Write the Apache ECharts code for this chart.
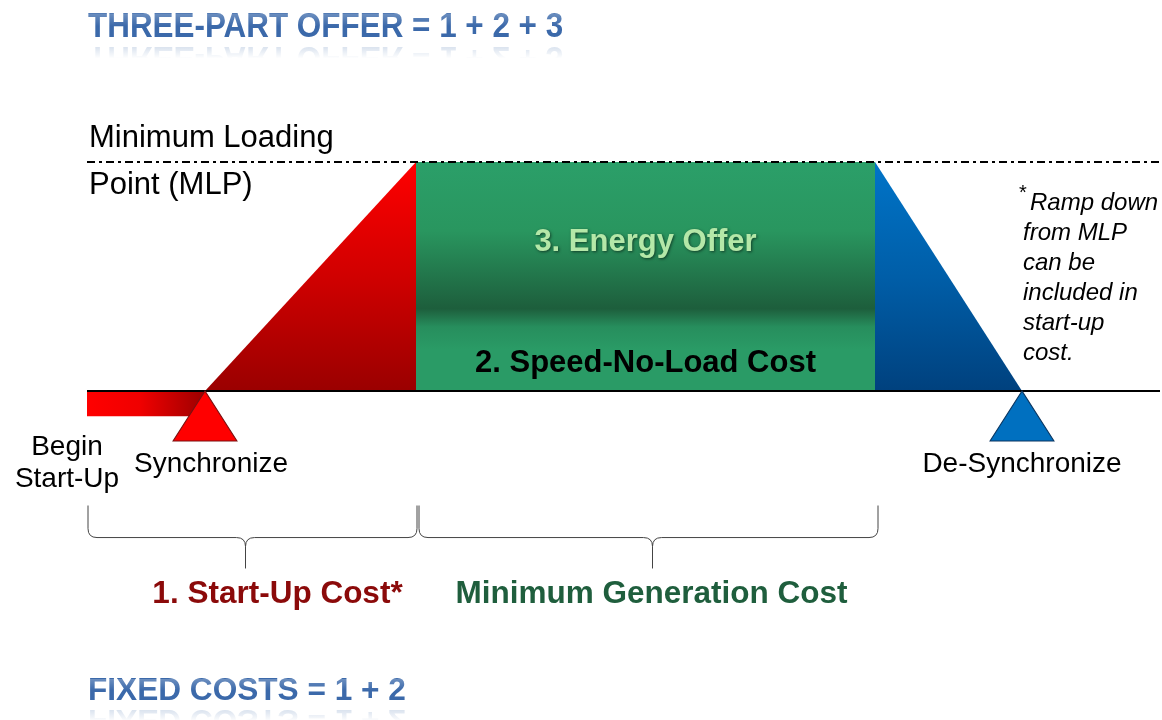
<!DOCTYPE html>
<html>
<head>
    <meta charset="UTF-8">
    <title>Three-part offer</title>
    <script src="https://cdn.jsdelivr.net/npm/echarts@6/dist/echarts.min.js"></script>
    <style>
        html, body { margin: 0; padding: 0; background: #fff; }
        #main { width: 1162px; height: 720px; }
    </style>
</head>
<body>
    <div id="main"></div>
    <script>
        // timeline of the unit (x = time, y = output level, MLP = 100)
        var eventNames = ['Begin\nStart-Up', 'Synchronize', 'Reach MLP', 'Ramp Down', 'De-Synchronize'];
        var eventTimes = [87, 205, 416, 875, 1022];
        var timeEnd = 1160;
        var levelBase = 0;
        var levelMLP = 100;
        var startUpLevel = -11;

        // cost brackets under the timeline
        var costLabels = ['1. Start-Up Cost*', 'Minimum Generation Cost'];
        var costSpans = [[88, 417], [419, 878]];

        // texts inside the minimum generation block
        var blockLabels = ['3. Energy Offer', '2. Speed-No-Load Cost'];

        var FONT = '"Liberation Sans", Arial, sans-serif';

        function grad(v, stops) {
            return new echarts.graphic.LinearGradient(0, 0, v ? 0 : 1, v ? 1 : 0,
                stops.map(function (s) { return { offset: s[0], color: s[1] }; }));
        }

        function areaLine(name, data, fill) {
            return {
                name: name,
                type: 'line',
                data: data,
                symbol: 'none',
                silent: true,
                lineStyle: { width: 0 },
                areaStyle: { color: fill, opacity: 1 },
                z: 2
            };
        }

        // blue heading with a faded mirror image underneath
        function titleText(text, y, mirror, size, sx) {
            var st = { text: text, fontSize: size, fontWeight: 'bold', fontFamily: FONT, fill: '#3b69aa', verticalAlign: 'middle' };
            var ref = echarts.util.clone(st);
            ref.opacity = 0.3;
            return [
                { type: 'text', x: 88, y: y, scaleX: sx, style: st, z: 10 },
                {
                    type: 'group', x: 0, y: mirror, scaleY: -1, z: 9,
                    children: [{ type: 'text', x: 88, y: -(mirror - y), scaleX: sx, style: ref }]
                },
                {
                    type: 'rect', z: 11,
                    shape: { x: 80, y: mirror, width: 520, height: 30 },
                    style: { fill: grad(true, [[0, 'rgba(255,255,255,0.1)'], [0.55, 'rgba(255,255,255,1)'], [1, 'rgba(255,255,255,1)']]) }
                },
                {
                    type: 'rect', z: 11,
                    shape: { x: 80, y: y - size * 0.38, width: 520, height: size * 0.36 },
                    style: { fill: grad(true, [[0, 'rgba(255,255,255,0.25)'], [1, 'rgba(255,255,255,0)']]) }
                }
            ];
        }

        var chart = echarts.init(document.getElementById('main'));

        var option = {
            animation: false,
            backgroundColor: '#fff',
            grid: { left: 0, right: 0, top: 1.7, bottom: 8.4 },
            xAxis: { type: 'value', min: 0, max: 1162, show: false },
            yAxis: { type: 'value', min: -140, max: 170, show: false },
            graphic: [].concat(
                titleText('THREE-PART OFFER = 1 + 2 + 3', 27, 42, 35.5, 0.885),
                titleText('FIXED COSTS = 1 + 2', 691, 705, 31.6, 1),
                [
                    { type: 'text', x: 89, y: 138, style: { text: 'Minimum Loading', fontSize: 31, fontFamily: FONT, fill: '#000', verticalAlign: 'middle' } },
                    { type: 'text', x: 89, y: 185, style: { text: 'Point (MLP)', fontSize: 31, fontFamily: FONT, fill: '#000', verticalAlign: 'middle' } },
                    { type: 'text', x: 1019, y: 193, style: { text: '*', fontSize: 20, fontFamily: FONT, fill: '#000', verticalAlign: 'middle' } },
                    { type: 'text', x: 1030, y: 203, style: { text: 'Ramp down', fontSize: 24, fontStyle: 'italic', fontFamily: FONT, fill: '#000', verticalAlign: 'middle' } },
                    {
                        type: 'text', x: 1023, y: 218,
                        style: { text: 'from MLP\ncan be\nincluded in\nstart-up\ncost.', fontSize: 24, lineHeight: 30, fontStyle: 'italic', fontFamily: FONT, fill: '#000', verticalAlign: 'top' }
                    }
                ]
            ),
            series: [
                // start-up bar before synchronisation
                areaLine('Start-Up', [[eventTimes[0], startUpLevel], [eventTimes[1], startUpLevel]],
                    grad(false, [[0, '#ff0000'], [0.45, '#f00000'], [1, '#9c0000']])),
                // ramp up to MLP
                areaLine('Ramp Up', [[eventTimes[1], levelBase], [eventTimes[2], levelMLP]],
                    grad(true, [[0, '#ff0000'], [0.5, '#d00000'], [1, '#9a0000']])),
                // minimum generation block
                areaLine('Min Gen', [[eventTimes[2], levelMLP], [eventTimes[3], levelMLP]],
                    grad(true, [[0, '#2b9f69'], [0.3, '#29965f'], [0.64, '#1d5e3c'], [0.72, '#278e5d'], [0.82, '#2a9b66'], [1, '#2a9b66']])),
                // ramp down from MLP
                areaLine('Ramp Down', [[eventTimes[3], levelMLP], [eventTimes[4], levelBase]],
                    grad(true, [[0, '#0074c8'], [0.5, '#005ea8'], [1, '#00417e']])),
                // MLP dash-dot line
                {
                    type: 'line', symbol: 'none', silent: true, z: 4,
                    data: [[eventTimes[0], levelMLP], [timeEnd, levelMLP]],
                    lineStyle: { color: '#000', width: 2, type: [8, 4, 3, 4] }
                },
                // base line
                {
                    type: 'line', symbol: 'none', silent: true, z: 4,
                    data: [[eventTimes[0], levelBase], [timeEnd, levelBase]],
                    lineStyle: { color: '#000', width: 2 }
                },
                // synchronise / de-synchronise markers
                {
                    type: 'scatter', silent: true, z: 5,
                    symbol: 'triangle',
                    symbolSize: [64, 50],
                    symbolOffset: [0, 25],
                    itemStyle: { opacity: 1 },
                    label: { show: true, position: 'bottom', distance: 9, formatter: '{b}', fontSize: 28, fontFamily: FONT, color: '#000' },
                    data: [
                        { name: eventNames[1], value: [eventTimes[1], levelBase], label: { offset: [6, 0] }, itemStyle: { color: '#ff0000', borderColor: '#7a1010', borderWidth: 1 } },
                        { name: eventNames[4], value: [eventTimes[4], levelBase], itemStyle: { color: '#0070c0', borderColor: '#0a3560', borderWidth: 1 } }
                    ]
                },
                // begin start-up label
                {
                    type: 'scatter', silent: true, z: 5,
                    symbol: 'circle',
                    symbolSize: 1,
                    itemStyle: { color: 'rgba(0,0,0,0)', opacity: 1 },
                    label: { show: true, position: 'bottom', distance: 15, offset: [-20, 0], formatter: '{b}', fontSize: 28, lineHeight: 32, fontFamily: FONT, color: '#000', align: 'center' },
                    data: [{ name: eventNames[0], value: [eventTimes[0], startUpLevel] }]
                },
                // labels inside min-gen block
                {
                    type: 'custom', silent: true, z: 6,
                    data: blockLabels,
                    renderItem: function (params, api) {
                        var cx = (api.coord([eventTimes[2], 0])[0] + api.coord([eventTimes[3], 0])[0]) / 2;
                        var first = params.dataIndex === 0;
                        var y = api.coord([0, levelMLP * (first ? 0.65 : 0.122)])[1];
                        return {
                            type: 'text', x: cx, y: y,
                            style: {
                                text: blockLabels[params.dataIndex],
                                fontSize: 31, fontWeight: 'bold', fontFamily: FONT,
                                fill: first ? '#b4e8a8' : '#000',
                                align: 'center', verticalAlign: 'middle',
                                textShadowColor: first ? 'rgba(0,0,0,0.55)' : 'transparent',
                                textShadowBlur: first ? 3 : 0,
                                textShadowOffsetX: first ? 1 : 0,
                                textShadowOffsetY: first ? 1 : 0
                            }
                        };
                    }
                },
                // cost braces
                {
                    type: 'custom', silent: true, z: 6,
                    data: costSpans.map(function (s, i) { return { name: costLabels[i], value: s }; }),
                    renderItem: function (params, api) {
                        var i = params.dataIndex;
                        var tipShift = [-7, 4];
                        var labelShift = [25, 3];
                        var x0 = api.coord([api.value(0), 0])[0];
                        var x1 = api.coord([api.value(1), 0])[0];
                        var yTop = api.coord([0, -50])[1];
                        var yMid = api.coord([0, -64])[1];
                        var yTip = api.coord([0, -77.5])[1];
                        var xc = (x0 + x1) / 2;
                        var xm = xc + tipShift[i];
                        var r = 9;
                        var d = 'M' + x0 + ' ' + yTop + ' L' + x0 + ' ' + (yMid - r) +
                            ' Q' + x0 + ' ' + yMid + ' ' + (x0 + r) + ' ' + yMid +
                            ' L' + (xm - r) + ' ' + yMid +
                            ' Q' + xm + ' ' + yMid + ' ' + xm + ' ' + (yMid + r) +
                            ' L' + xm + ' ' + yTip +
                            ' M' + x1 + ' ' + yTop + ' L' + x1 + ' ' + (yMid - r) +
                            ' Q' + x1 + ' ' + yMid + ' ' + (x1 - r) + ' ' + yMid +
                            ' L' + (xm + r) + ' ' + yMid +
                            ' Q' + xm + ' ' + yMid + ' ' + xm + ' ' + (yMid + r);
                        var colors = ['#8b0a0a', '#1f5e3d'];
                        return {
                            type: 'group',
                            children: [
                                { type: 'path', shape: { pathData: d }, style: { fill: 'none', stroke: '#444', lineWidth: 1 } },
                                {
                                    type: 'text', x: xc + labelShift[i], y: api.coord([0, -88.6])[1],
                                    style: {
                                        text: costLabels[i], fontSize: 31.5, fontWeight: 'bold', fontFamily: FONT,
                                        fill: colors[i], align: 'center', verticalAlign: 'middle'
                                    }
                                }
                            ]
                        };
                    }
                }
            ]
        };

        chart.setOption(option);
    </script>
</body>
</html>
